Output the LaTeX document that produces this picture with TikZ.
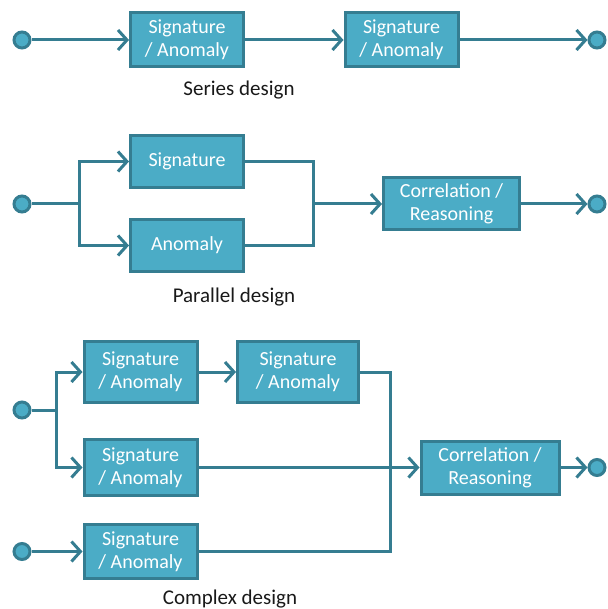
\documentclass[tikz,border=0pt]{standalone}
\usepackage{fontspec}
\setmainfont{Carlito}
\usetikzlibrary{arrows.meta}
\definecolor{boxfill}{HTML}{4BACC6}
\definecolor{boxline}{HTML}{357D91}
\tikzset{
  blk/.style={draw=boxline,fill=boxfill,line width=3pt,text=white,align=center,
    inner sep=0pt,minimum width=113pt,minimum height=54pt,
    font=\fontsize{20}{23}\selectfont},
  wire/.style={draw=boxline,line width=3pt},
  flow/.style={wire,-{Straight Barb[length=9pt,width=20pt]}},
  term/.style={circle,draw=boxline,fill=boxfill,line width=3pt,minimum size=16pt,inner sep=0pt},
  legend/.style={font=\fontsize{21}{25}\selectfont,text=black!90}
}
\begin{document}
\begin{tikzpicture}[x=1pt,y=-1pt]
\useasboundingbox (0,0) rectangle (607,609);

% series design
\node[term] (sstart) at (22,40) {};
\node[blk] (s1) at (187,40) {Signature\\/ Anomaly};
\node[blk] (s2) at (401.5,40) {Signature\\/ Anomaly};
\node[term] (send) at (597,40) {};
\node[legend] (scap) at (239,90) {Series design};
\draw[flow] (sstart) -- (s1);
\draw[flow] (s1) -- (s2);
\draw[flow] (s2) -- (send);

% parallel design
\node[term] (pstart) at (22,204) {};
\node[blk,minimum height=52pt] (psig) at (187,161.5) {Signature};
\node[blk,minimum height=52pt] (pano) at (187,245.5) {Anomaly};
\node[blk,minimum width=136pt,minimum height=52pt] (pcor) at (451.5,204) {Correlation /\\Reasoning};
\node[term] (pend) at (597,204) {};
\node[legend] (pcap) at (234,297) {Parallel design};
\coordinate (pfork) at (79,204);
\coordinate (pjoin) at (313,204);
\draw[wire] (pstart) -- (pfork);
\draw[flow] (pfork) |- (psig);
\draw[flow] (pfork) |- (pano);
\draw[wire] (psig.east) -| (pjoin) |- (pano.east);
\draw[flow] (pjoin) -- (pcor);
\draw[flow] (pcor) -- (pend);

% complex design
\node[term] (cstart) at (22,410) {};
\node[term] (cstart2) at (22,551.5) {};
\node[blk,minimum height=61pt] (ca) at (140.5,372) {Signature\\/ Anomaly};
\node[blk,minimum width=121pt,minimum height=61pt] (cb) at (298,372) {Signature\\/ Anomaly};
\node[blk,minimum height=56pt] (cc) at (140.5,467.5) {Signature\\/ Anomaly};
\node[blk,minimum height=54pt] (cd) at (140.5,551.5) {Signature\\/ Anomaly};
\node[blk,minimum width=138pt,minimum height=53pt] (ccor) at (490,467.5) {Correlation /\\Reasoning};
\node[term] (cend) at (597,467.5) {};
\node[legend] (ccap) at (230,599) {Complex design};
\coordinate (cfork) at (56,410);
\coordinate (cjoin) at (390,467.5);
\draw[wire] (cstart) -- (cfork);
\draw[flow] (cfork) |- (ca);
\draw[flow] (cfork) |- (cc);
\draw[flow] (ca) -- (cb);
\draw[flow] (cstart2) -- (cd);
\draw[wire] (cb.east) -| (cjoin) |- (cd.east);
\draw[flow] (cc) -- (ccor);
\draw[flow] (ccor) -- (cend);
\end{tikzpicture}
\end{document}
